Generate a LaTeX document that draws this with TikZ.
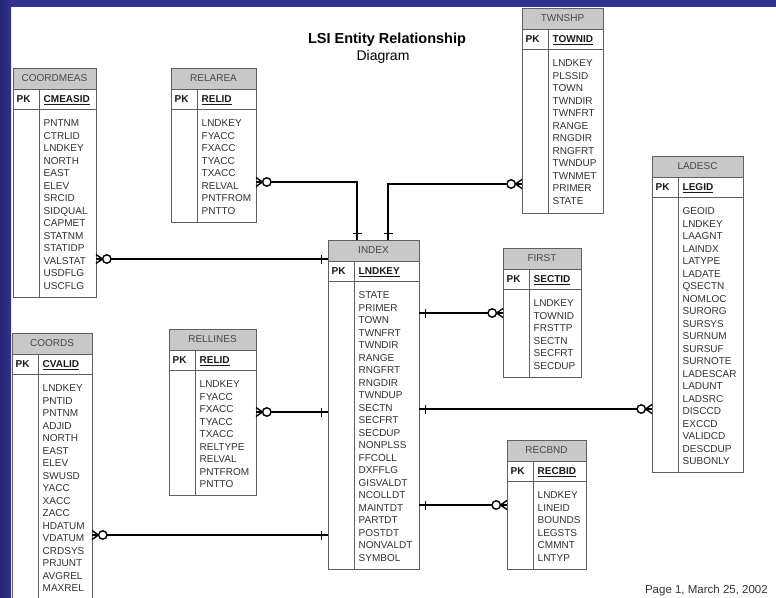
\documentclass[tikz,border=0pt]{standalone}
\usepackage{fontspec}
\setmainfont{Liberation Sans}
\usetikzlibrary{calc}

\definecolor{bandblue}{RGB}{48,50,146}
\definecolor{banddark}{RGB}{38,38,116}
\definecolor{hdrgray}{RGB}{200,200,200}
\definecolor{framegray}{RGB}{96,96,96}
\definecolor{fieldgray}{RGB}{50,50,50}

\tikzset{
  entframe/.style={draw=framegray, line width=0.8pt},
  hdrtext/.style={font=\fontsize{10}{12}\selectfont, text=black!72, inner sep=0pt},
  pktext/.style={font=\fontsize{10}{12}\selectfont\bfseries, text=black!90, inner sep=0pt, anchor=base west},
  fieldtext/.style={font=\fontsize{10}{12}\selectfont, text=fieldgray, inner sep=0pt, anchor=base west},
  rel/.style={draw=black, line width=1.5pt},
  relthick/.style={draw=black, line width=2.1pt},
  zeromany/.pic={
    \draw[black, line width=1.4pt] (0,-4.5) -- (6.5,0) -- (0,4.5);
    \draw[black, line width=1.4pt, fill=white] (10.8,0) circle (4.2);
  },
  onebar/.pic={
    \draw[black, line width=1.7pt] (6.5,-4.5) -- (6.5,4.5);
  },
}

% entity table: name, left, top, width, height, title, key, fields
\newcommand\entity[8]{%
  \node[inner sep=0pt, outer sep=0pt, anchor=north west,
        minimum width=#4pt, minimum height=#5pt] (#1) at (#2,#3) {};
  \fill[hdrgray] (#1.north west) rectangle ($(#1.north east)+(0,21)$);
  \draw[entframe] ($(#1.north west)+(0,21)$) -- ($(#1.north east)+(0,21)$);
  \draw[entframe] ($(#1.north west)+(0,41)$) -- ($(#1.north east)+(0,41)$);
  \draw[entframe] ($(#1.north west)+(26.5,21)$) -- ($(#1.south west)+(26.5,0)$);
  \draw[entframe] (#1.north west) rectangle (#1.south east);
  \node[hdrtext] (#1-title) at ($(#1.north)+(0,10.5)$) {#6};
  \node[pktext] (#1-pk) at ($(#1.north west)+(3.5,34.6)$) {PK};
  \node[pktext] (#1-key) at ($(#1.north west)+(30.5,34.6)$) {\underline{#7}};
  \foreach \f [count=\i] in {#8} {
    \node[fieldtext] (#1-\i) at ($(#1.north west)+(30.5,{58.6+12.5*(\i-1)})$) {\f};
  }
}

\begin{document}
\begin{tikzpicture}[x=1pt, y=-1pt]
  \useasboundingbox (0,0) rectangle (776,597);
  \clip (0,0) rectangle (776,597);
  \fill[white] (0,0) rectangle (776,597);
  \fill[bandblue] (0,0) rectangle (776,7);
  \shade[left color=banddark, right color=bandblue] (0,0) rectangle (11,597);

  % heading and footer
  \node[font=\fontsize{14.5}{16}\selectfont\bfseries, anchor=base, inner sep=0pt] (title) at (387,43.3) {LSI Entity Relationship};
  \node[font=\fontsize{14}{16}\selectfont, anchor=base, inner sep=0pt] (subtitle) at (383,60) {Diagram};
  \node[font=\fontsize{11.5}{13}\selectfont, text=black!80, anchor=base east, inner sep=0pt] (footer) at (768,593) {Page 1, March 25, 2002};

  % tables
  \entity{coordmeas}{13}{68}{83}{229}{COORDMEAS}{CMEASID}{PNTNM,CTRLID,LNDKEY,NORTH,EAST,ELEV,SRCID,SIDQUAL,CAPMET,STATNM,STATIDP,VALSTAT,USDFLG,USCFLG}
  \entity{relarea}{171}{68}{85}{154}{RELAREA}{RELID}{LNDKEY,FYACC,FXACC,TYACC,TXACC,RELVAL,PNTFROM,PNTTO}
  \entity{twnshp}{522}{8}{81}{205}{TWNSHP}{TOWNID}{LNDKEY,PLSSID,TOWN,TWNDIR,TWNFRT,RANGE,RNGDIR,RNGFRT,TWNDUP,TWNMET,PRIMER,STATE}
  \entity{ladesc}{652}{156}{91}{316}{LADESC}{LEGID}{GEOID,LNDKEY,LAAGNT,LAINDX,LATYPE,LADATE,QSECTN,NOMLOC,SURORG,SURSYS,SURNUM,SURSUF,SURNOTE,LADESCAR,LADUNT,LADSRC,DISCCD,EXCCD,VALIDCD,DESCDUP,SUBONLY}
  \entity{index}{328}{240}{91}{329}{INDEX}{LNDKEY}{STATE,PRIMER,TOWN,TWNFRT,TWNDIR,RANGE,RNGFRT,RNGDIR,TWNDUP,SECTN,SECFRT,SECDUP,NONPLSS,FFCOLL,DXFFLG,GISVALDT,NCOLLDT,MAINTDT,PARTDT,POSTDT,NONVALDT,SYMBOL}
  \entity{first}{503}{248}{78}{129}{FIRST}{SECTID}{LNDKEY,TOWNID,FRSTTP,SECTN,SECFRT,SECDUP}
  \entity{recbnd}{507}{440}{79}{129}{RECBND}{RECBID}{LNDKEY,LINEID,BOUNDS,LEGSTS,CMMNT,LNTYP}
  \entity{coords}{12}{333}{80}{285}{COORDS}{CVALID}{LNDKEY,PNTID,PNTNM,ADJID,NORTH,EAST,ELEV,SWUSD,YACC,XACC,ZACC,HDATUM,VDATUM,CRDSYS,PRJUNT,AVGREL,MAXREL}
  \entity{rellines}{169}{329}{87}{166}{RELLINES}{RELID}{LNDKEY,FYACC,FXACC,TYACC,TXACC,RELTYPE,RELVAL,PNTFROM,PNTTO}

  % connector end points
  \coordinate (cm-a) at ($(coordmeas.north east)+(0,191)$);
  \coordinate (ra-a) at ($(relarea.north east)+(0,114)$);
  \coordinate (ra-b) at ($(index.north west)+(29,0)$);
  \coordinate (tw-a) at ($(twnshp.north west)+(0,176)$);
  \coordinate (tw-b) at ($(index.north west)+(60,0)$);
  \coordinate (rl-a) at ($(rellines.north east)+(0,83)$);
  \coordinate (cd-a) at ($(coords.north east)+(0,202)$);
  \coordinate (fi-a) at ($(first.north west)+(0,65)$);
  \coordinate (la-a) at ($(ladesc.north west)+(0,253)$);
  \coordinate (rb-a) at ($(recbnd.north west)+(0,65)$);

  % relationships into INDEX
  \draw[rel] (cm-a) -- (cm-a -| index.west);
  \pic at (cm-a) {zeromany};
  \pic[rotate=180] at (cm-a -| index.west) {onebar};

  \draw[rel] (ra-a) -| (ra-b);
  \pic at (ra-a) {zeromany};
  \pic[rotate=90] at (ra-b) {onebar};

  \draw[rel] (tw-a) -| (tw-b);
  \pic[rotate=180] at (tw-a) {zeromany};
  \pic[rotate=90] at (tw-b) {onebar};

  \draw[relthick] (rl-a) -- (rl-a -| index.west);
  \pic at (rl-a) {zeromany};
  \pic[rotate=180] at (rl-a -| index.west) {onebar};

  \draw[rel] (cd-a) -- (cd-a -| index.west);
  \pic at (cd-a) {zeromany};
  \pic[rotate=180] at (cd-a -| index.west) {onebar};

  % relationships out of INDEX
  \draw[rel] (fi-a -| index.east) -- (fi-a);
  \pic at (fi-a -| index.east) {onebar};
  \pic[rotate=180] at (fi-a) {zeromany};

  \draw[relthick] (la-a -| index.east) -- (la-a);
  \pic at (la-a -| index.east) {onebar};
  \pic[rotate=180] at (la-a) {zeromany};

  \draw[relthick] (rb-a -| index.east) -- (rb-a);
  \pic at (rb-a -| index.east) {onebar};
  \pic[rotate=180] at (rb-a) {zeromany};
\end{tikzpicture}
\end{document}
